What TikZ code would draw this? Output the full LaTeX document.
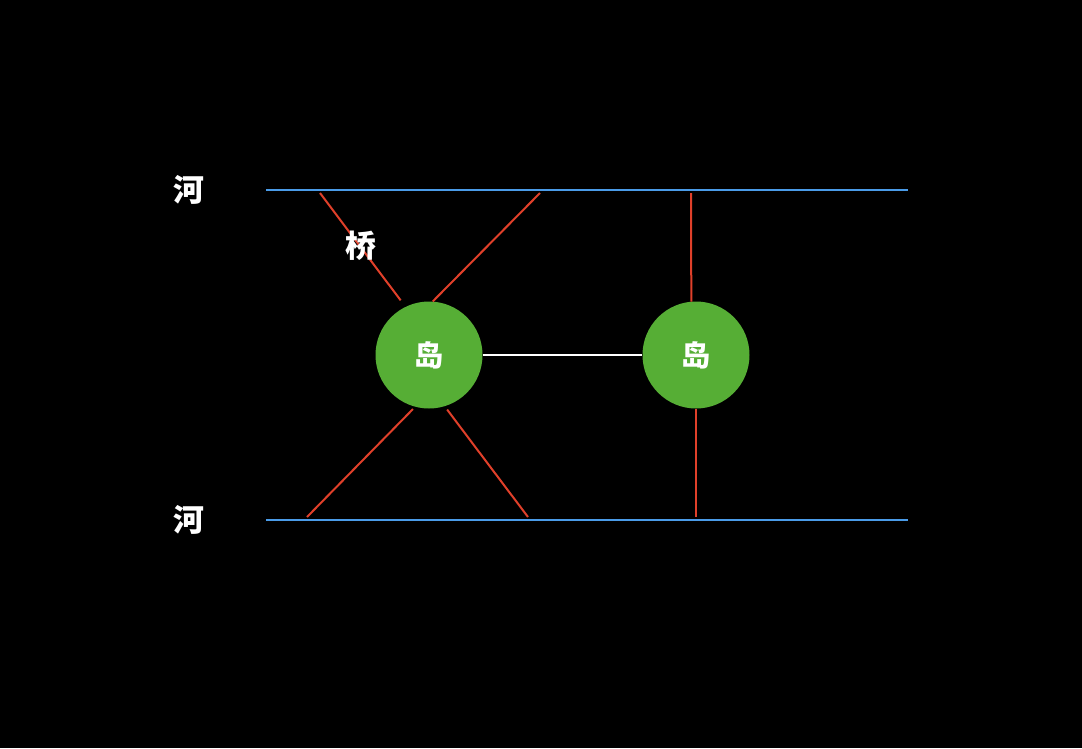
\documentclass[tikz,border=0pt]{standalone}
\usepackage{fontspec}
\newfontfamily\cjk{Noto Sans CJK SC}
\usetikzlibrary{calc}
\definecolor{riverblue}{HTML}{4A9BE8}
\definecolor{bridgered}{HTML}{E0402A}
\definecolor{islegreen}{HTML}{56AE35}
\tikzset{
  river/.style={riverblue, line width=2pt},
  bridge/.style={bridgered, line width=2pt},
  island/.style={circle, fill=islegreen, minimum size=107pt, inner sep=0pt,
    text=white, font=\cjk\bfseries\fontsize{29}{29}\selectfont},
  lbl/.style={text=white, font=\cjk\bfseries\fontsize{31}{31}\selectfont}
}

\begin{document}
\begin{tikzpicture}[x=1pt, y=-1pt]
\fill[black] (0,0) rectangle (1082,748);
\useasboundingbox (0,0) rectangle (1082,748);
% rivers
\coordinate (up1) at (266,189.5);
\coordinate (up2) at (908,189.5);
\coordinate (lo1) at (266,520);
\coordinate (lo2) at (908,520);
\draw[river] (up1)--(up2);
\draw[river] (lo1)--(lo2);
\node[lbl] (riverup) at (189,190) {河};
\node[lbl] (riverlo) at (189,520) {河};
% islands
\node[island] (isla) at (429,355) {岛};
\node[island] (islb) at (696,355) {岛};
% bridge ends on the banks
\coordinate (ba) at (320,193);
\coordinate (bb) at (540,193);
\coordinate (bc) at (691,193);
\coordinate (bd) at (307,517);
\coordinate (be) at (528,517);
\coordinate (bf) at (696,517);
\draw[bridge, shorten >=8pt] (ba)--(isla.116);
\draw[bridge] (bb)--(isla.86);
\draw[bridge] (bc)--(islb.95);
\draw[bridge, shorten >=3pt] (bd)--(isla.-105);
\draw[bridge, shorten >=4pt] (be)--(isla.-73);
\draw[bridge] (bf)--(islb.south);
\draw[white, line width=2pt] (isla.east)--(islb.west);
\node[lbl] (brlabel) at (361,246) {桥};
\end{tikzpicture}
\end{document}
